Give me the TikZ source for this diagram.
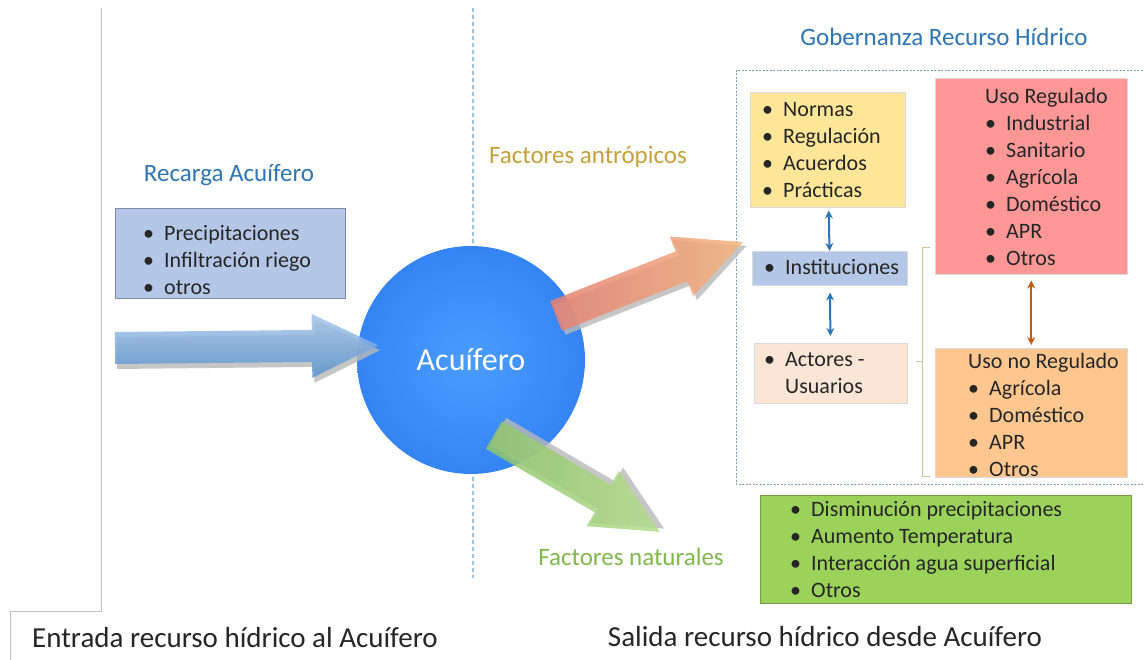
\documentclass[tikz,border=0pt]{standalone}
\usepackage{fontspec}
\setmainfont{Carlito}
\usepackage{tikz}
\usetikzlibrary{arrows, arrows.meta, positioning}

\definecolor{titleblue}{HTML}{2E75B6}
\definecolor{antrogold}{HTML}{C6A03A}
\definecolor{natgreen}{HTML}{7FB94A}
\definecolor{bluefill}{HTML}{B4C7E7}
\definecolor{yellowfill}{HTML}{FFE699}
\definecolor{peachfill}{HTML}{FBE5D6}
\definecolor{redfill}{HTML}{FF9797}
\definecolor{orangefill}{HTML}{FFC78F}
\definecolor{greenfill}{HTML}{9BD25A}
\definecolor{aquablue}{HTML}{3584F5}
\definecolor{aquainner}{HTML}{4A9DFF}
\definecolor{textgray}{HTML}{262626}
\definecolor{usearrow}{HTML}{C55A11}
\definecolor{inflowtop}{HTML}{A9C8EA}
\definecolor{inflowbot}{HTML}{5A92CE}
\definecolor{antroleft}{HTML}{E57F72}
\definecolor{antroright}{HTML}{F5B57E}
\definecolor{natleft}{HTML}{8FC46A}
\definecolor{natright}{HTML}{B5DE8E}

\newcommand{\listfont}{\fontsize{22}{27}\selectfont}
\newcommand{\titlefont}{\fontsize{25}{30}\selectfont}
\newcommand{\bigfont}{\fontsize{29}{34}\selectfont}
\newcommand{\circfont}{\fontsize{32}{38}\selectfont}
\newcommand{\bi}{\makebox[21pt][l]{\textbullet}}
\newcommand{\blist}[1]{\begin{tabular}{@{}l@{}}#1\end{tabular}}

\tikzstyle{box} = [rectangle, anchor=north west, inner sep=0pt, draw=black!15, line width=0.5pt]
\tikzstyle{items} = [anchor=north west, inner sep=0pt, font=\listfont, text=textgray]
\tikzstyle{heading} = [font=\titlefont]
\tikzstyle{dblarrow} = [{Stealth[length=8pt, width=8pt]}-{Stealth[length=8pt, width=8pt]}, line width=2pt]
\tikzstyle{divider} = [draw={rgb,255:red,157;green,195;blue,230}, line width=1.2pt, dash pattern=on 4pt off 3pt]
\tikzstyle{govframe} = [draw={rgb,255:red,130;green,160;blue,190}, line width=0.9pt, dash pattern=on 2pt off 1.5pt]
\tikzstyle{bracketline} = [draw={rgb,255:red,213;green,188;blue,154}, line width=1pt]
\tikzstyle{arrowedge} = [fill=black!28, fill opacity=0.8]
\tikzstyle{inflowshade} = [top color=inflowtop, bottom color=inflowbot, fill opacity=0.85]
\tikzstyle{antroshade} = [left color=antroleft, right color=antroright, fill opacity=0.85]
\tikzstyle{natshade} = [left color=natleft, right color=natright, fill opacity=0.85]

% fat 3D arrow: tail, angle, length, shading, edge offset
\newcommand{\fatarrow}[5]{%
  \begin{scope}[shift={#1}, rotate=#2]
    \fill[arrowedge, shift={#5}] (0,-16) -- ({#3-66},-16) -- ({#3-66},-32) -- (#3,0)
      -- ({#3-66},32) -- ({#3-66},16) -- (0,16) -- cycle;
    \shade[#4] (0,-16) -- ({#3-66},-16) -- ({#3-66},-32) -- (#3,0)
      -- ({#3-66},32) -- ({#3-66},16) -- (0,16) -- cycle;
  \end{scope}}

\begin{document}
\begin{tikzpicture}[x=1pt, y=-1pt]
	\useasboundingbox (0,0) rectangle (1144,660);
	\fill[white] (0,0) rectangle (1144,660);

	% frame and dividers
	\draw[black!25, line width=0.8pt] (101,8) -- (101,611) -- (10,611) -- (10,660);
	\draw[divider] (473,8) -- (473,578);
	\draw[govframe] (736,70) rectangle (1150,484);

	% titles
	\node (rectitle) [heading, text=titleblue] at (229,175) {Recarga Acuífero};
	\node (antrotitle) [heading, text=antrogold] at (588,157) {Factores antrópicos};
	\node (govtitle) [heading, text=titleblue] at (944,37) {Gobernanza Recurso Hídrico};
	\node (nattitle) [heading, text=natgreen] at (631,557) {Factores naturales};

	% boxes
	\node (recarga) [box, fill=bluefill, draw=bluefill!70!black, minimum width=230, minimum height=90] at (115,208) {};
	\node (recargalist) [items] at ([shift={(28,13)}]recarga.north west) {\blist{\bi Precipitaciones\\ \bi Infiltración riego\\ \bi otros}};

	\node (normas) [box, fill=yellowfill, minimum width=155, minimum height=115] at (750,92) {};
	\node (normaslist) [items] at ([shift={(12,5)}]normas.north west) {\blist{\bi Normas\\ \bi Regulación\\ \bi Acuerdos\\ \bi Prácticas}};

	\node (inst) [box, fill=bluefill, minimum width=155, minimum height=34] at (752,251) {};
	\node (instlist) [items] at ([shift={(12,4)}]inst.north west) {\blist{\bi Instituciones}};

	\node (actores) [box, fill=peachfill, minimum width=153, minimum height=60] at (754,343) {};
	\node (actoreslist) [items] at ([shift={(10,4)}]actores.north west) {\blist{\bi Actores -\\ \makebox[21pt]{}Usuarios}};

	\node (regulado) [box, fill=redfill, minimum width=192, minimum height=196] at (935,78) {};
	\node (reguladolist) [items] at ([shift={(50,6)}]regulado.north west) {\blist{Uso Regulado\\ \bi Industrial\\ \bi Sanitario\\ \bi Agrícola\\ \bi Doméstico\\ \bi APR\\ \bi Otros}};

	\node (noregulado) [box, fill=orangefill, minimum width=192, minimum height=129] at (935,348) {};
	\node (noreguladolist) [items] at ([shift={(33,1)}]noregulado.north west) {\blist{Uso no Regulado\\ \bi Agrícola\\ \bi Doméstico\\ \bi APR\\ \bi Otros}};

	\node (naturales) [box, fill=greenfill, draw=greenfill!75!black, minimum width=371, minimum height=108] at (760,495) {};
	\node (natlist) [items] at ([shift={(30,2)}]naturales.north west) {\blist{\bi Disminución precipitaciones\\ \bi Aumento Temperatura\\ \bi Interacción agua superficial\\ \bi Otros}};

	% links inside governance
	\draw[dblarrow, titleblue, shorten <=3pt] (normas) -- (inst);
	\draw[dblarrow, titleblue, shorten <=7pt, shorten >=7pt] (inst) -- (actores);
	\draw[dblarrow, usearrow, shorten <=6pt, shorten >=3pt] (regulado) -- (noregulado);
	\draw[bracketline] (930,248) -- (922,248) -- (922,476) -- (930,476);
	\draw[bracketline] (916,362) -- (922,362);

	% aquifer and flows
	\node (acuifero) [circle, minimum size=228, inner color=aquainner, outer color=aquablue, text=white, font=\circfont] at (471,360) {Acuífero};
	\fatarrow{(115,348)}{0.6}{263}{inflowshade}{(2,5)}
	\fatarrow{(556,316)}{21.6}{201}{antroshade}{(2,5)}
	\fatarrow{(494,435)}{-30.3}{192}{natshade}{(2,-5)}

	% bottom captions
	\node (entrada) [font=\bigfont, text=textgray] at (235,638) {Entrada recurso hídrico al Acuífero};
	\node (salida) [font=\bigfont, text=textgray] at (825,637) {Salida recurso hídrico desde Acuífero};
\end{tikzpicture}
\end{document}
